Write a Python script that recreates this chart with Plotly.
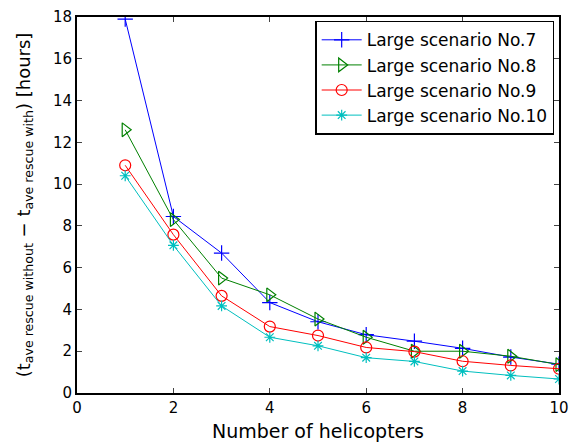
import plotly.graph_objects as go

helicopters = [1, 2, 3, 4, 5, 6, 7, 8, 9, 10]
scenario7 = [17.9, 8.45, 6.7, 4.33, 3.41, 2.79, 2.48, 2.14, 1.72, 1.38]
scenario8 = [12.6, 8.3, 5.5, 4.7, 3.54, 2.67, 2.0, 2.0, 1.76, 1.36]
scenario9 = [10.9, 7.58, 4.65, 3.18, 2.75, 2.18, 1.98, 1.52, 1.32, 1.16]
scenario10 = [10.4, 7.07, 4.17, 2.67, 2.26, 1.69, 1.51, 1.05, 0.84, 0.67]
names = ["Large scenario No.7", "Large scenario No.8", "Large scenario No.9", "Large scenario No.10"]
colors = ["#0000ff", "#008000", "#ff0000", "#00bfbf"]
symbols = ["cross-thin-open", "triangle-right-open", "circle-open", "asterisk-open"]
sizes = [11, 12, 11, 9]

font = "DejaVu Sans, Liberation Sans, Arial, sans-serif"
fig = go.Figure()
for ys, n, c, s, sz in zip([scenario7, scenario8, scenario9, scenario10], names, colors, symbols, sizes):
    fig.add_trace(go.Scatter(
        x=helicopters, y=ys, name=n, mode="lines+markers",
        line=dict(color=c, width=1),
        marker=dict(symbol=s, size=sz, color=c, line=dict(color=c, width=1.2)),
    ))

fig.update_layout(
    width=577, height=444,
    margin=dict(l=69, r=26, t=9, b=59),
    paper_bgcolor="white", plot_bgcolor="white",
    font=dict(family=font, size=15, color="black"),
    showlegend=True,
    legend=dict(x=0.99, y=0.99, xanchor="right", yanchor="top",
                bordercolor="black", borderwidth=1.5, bgcolor="white",
                font=dict(size=17), tracegroupgap=0, itemwidth=40),
    xaxis=dict(range=[0, 10], tickvals=[0, 2, 4, 6, 8, 10], ticks="inside", ticklen=5,
               showline=True, mirror="ticks", linecolor="black", linewidth=2,
               showgrid=False, zeroline=False, automargin=False, ticklabeloverflow="allow",
               title=dict(text="Number of helicopters", font=dict(size=19), standoff=9)),
    yaxis=dict(range=[0, 18], tickvals=[0, 2, 4, 6, 8, 10, 12, 14, 16, 18], ticks="inside", ticklen=5,
               showline=True, mirror="ticks", linecolor="black", linewidth=2,
               showgrid=False, zeroline=False, automargin=False, ticklabeloverflow="allow",
               title=dict(text="(t<sub>ave rescue without</sub> − t<sub>ave rescue with</sub>) [hours]",
                          font=dict(size=18), standoff=18)),
)

fig.write_html("out.html")
